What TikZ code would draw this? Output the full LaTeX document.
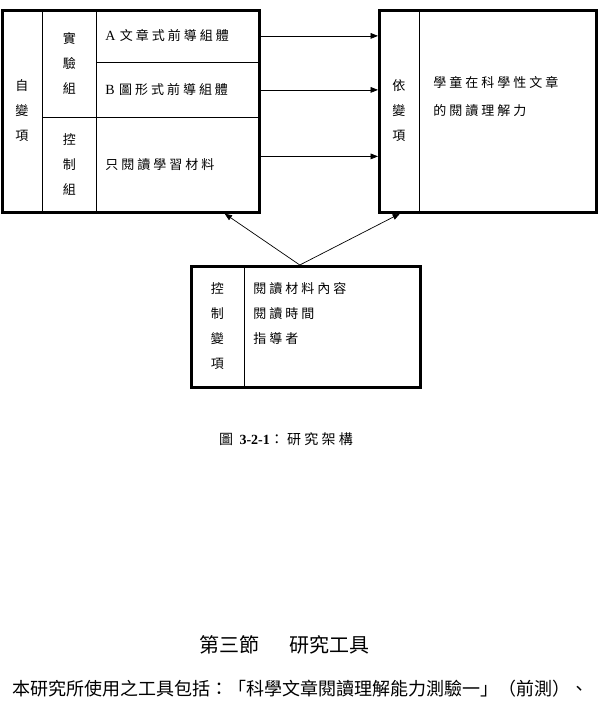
\documentclass[tikz,border=0pt]{standalone}
\usepackage{fontspec}
\setmainfont{Liberation Serif}
\newfontfamily\cjk[LetterSpace=23]{Noto Sans CJK TC}
\newfontfamily\cjkplain{Noto Sans CJK TC}
\newcommand\lat[1]{{\rmfamily\fontsize{14}{25}\selectfont #1}}
\usetikzlibrary{positioning,arrows.meta}
\tikzset{
  cell/.style={draw, line width=0.8pt, anchor=north west, inner sep=0pt, align=center, font=\fontsize{13}{25}\selectfont\cjk},
  txtcell/.style={cell, align=left, inner xsep=9pt},
  frame/.style={draw, line width=2.6pt, anchor=north west, inner sep=0pt},
  fl/.style={-{Triangle[length=2.6mm, width=2mm]}, line width=0.7pt},
}

\begin{document}
\begin{tikzpicture}[x=1pt, y=-1pt]
\useasboundingbox (0,0) rectangle (599,701);
% independent variables
\node[cell, minimum width=41pt, minimum height=202pt] (zbx) at (1,9) {自\\變\\項};
\node[cell, minimum width=54pt, minimum height=108pt] (syz) at (42,9) {實\\驗\\組};
\node[cell, minimum width=54pt, minimum height=94pt] (kzz) at (42,117) {控\\制\\組};
\node[txtcell, text width=144pt, minimum height=53pt] (ga) at (96,9) {\lat{A} 文章式前導組體};
\node[txtcell, text width=144pt, minimum height=55pt] (gb) at (96,62) {\lat{B} 圖形式前導組體};
\node[txtcell, text width=144pt, minimum height=94pt] (gc) at (96,117) {只閱讀學習材料};
\node[frame, minimum width=257pt, minimum height=202pt] (lbox) at (1,9) {};
% dependent variable
\node[cell, minimum width=41pt, minimum height=202pt] (ybx) at (378,9) {依\\變\\項};
\node[txtcell, inner xsep=14pt, text width=148pt, minimum height=202pt, font=\fontsize{13}{28}\selectfont\cjk] (ra) at (419,9)
  {學童在科學性文章\\的閱讀理解力\\~};
\node[frame, minimum width=217pt, minimum height=202pt] (rbox) at (378,9) {};
% control variables
\node[cell, minimum width=54pt, minimum height=121pt] (kbx) at (190,265) {控\\制\\變\\項};
\node[txtcell, text width=157pt, minimum height=121pt] (kc) at (244,265) {閱讀材料內容\\閱讀時間\\指導者\\~};
\node[frame, minimum width=229pt, minimum height=121pt] (cbox) at (190,265) {};
\draw[fl] (ga.east) -- (ga.east -| rbox.west);
\draw[fl] (gb.east) -- (gb.east -| rbox.west);
\draw[fl] ([yshift=8pt]gc.east) -- ([yshift=8pt]gc.east -| rbox.west);
\draw[fl] ([xshift=-6pt]cbox.north) -- ([xshift=-36pt]lbox.south east);
\draw[fl] ([xshift=-6pt]cbox.north) -- ([xshift=22pt]rbox.south west);
% caption and following text
\node[font=\fontsize{14}{16}\selectfont\cjk] (cap) at (286,439) {圖 {\rmfamily\bfseries 3-2-1}：研究架構};
\node[font=\fontsize{20}{24}\selectfont\cjkplain] (sec) at (284,645) {第三節\hspace{30pt}研究工具};
\node[font=\fontsize{18}{20}\selectfont\cjkplain, anchor=west, inner sep=0pt] (para) at (12,689)
  {本研究所使用之工具包括：「科學文章閱讀理解能力測驗一」（前測）、};
\end{tikzpicture}
\end{document}
